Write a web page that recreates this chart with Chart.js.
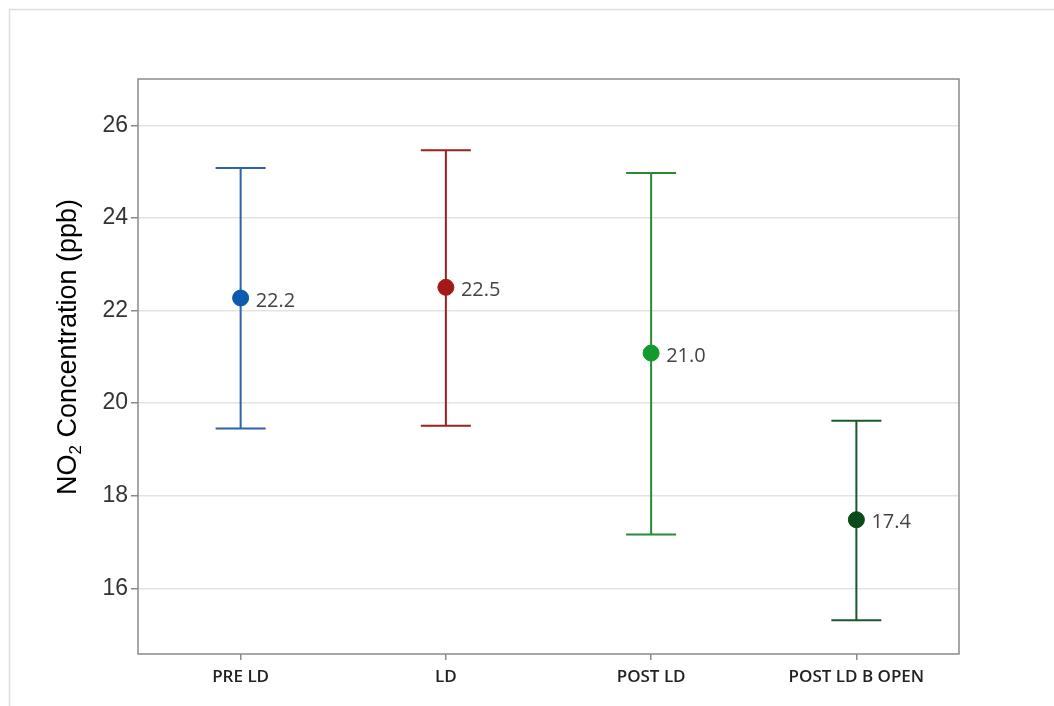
<!DOCTYPE html>
<html><head><meta charset="utf-8">
<script src="https://cdn.jsdelivr.net/npm/chart.js@4/dist/chart.umd.min.js"></script>
<style>html,body{margin:0;padding:0;background:#fff;} #wrap{width:1054px;height:706px;position:relative;}</style>
</head><body><div id="wrap"><canvas id="c" width="1054" height="706"></canvas></div>
<script>
const categories = ["PRE LD", "LD", "POST LD", "POST LD B OPEN"];
const means = [22.27, 22.5, 21.08, 17.48];
const upper = [25.08, 25.46, 24.97, 19.62];
const lower = [19.45, 19.51, 17.16, 15.31];
const meanLabels = ["22.2", "22.5", "21.0", "17.4"];
const yTicks = [16, 18, 20, 22, 24, 26];
const lineColors = ["#2b65a9", "#9e1f1f", "#2a8a38", "#1a5a2a"];
const pointColors = ["#0d5bad", "#a51818", "#139a2c", "#0b4a1a"];
const yTitle = ["NO", "2", " Concentration (ppb)"];

const framePlugin = {
  id: 'frame',
  beforeDraw(chart) {
    const ctx = chart.ctx;
    ctx.save();
    ctx.fillStyle = '#fff';
    ctx.fillRect(0, 0, chart.width, chart.height);
    ctx.strokeStyle = '#dedede';
    ctx.lineWidth = 1.5;
    ctx.beginPath();
    ctx.moveTo(9.5, chart.height); ctx.lineTo(9.5, 9.5); ctx.lineTo(chart.width, 9.5);
    ctx.stroke();
    ctx.restore();
  }
};

const errPlugin = {
  id: 'errbars',
  beforeDatasetsDraw(chart) {
    const ctx = chart.ctx, ca = chart.chartArea;
    const xs = chart.scales.x, ys = chart.scales.y;
    ctx.save();
    ctx.strokeStyle = '#8a8a8a';
    ctx.lineWidth = 1.5;
    ctx.strokeRect(ca.left, ca.top, ca.right - ca.left, ca.bottom - ca.top);
    for (let i = 0; i < categories.length; i++) {
      const x = xs.getPixelForValue(i);
      const yu = ys.getPixelForValue(upper[i]);
      const yl = ys.getPixelForValue(lower[i]);
      ctx.strokeStyle = lineColors[i];
      ctx.lineWidth = 2;
      ctx.beginPath();
      ctx.moveTo(x, yu); ctx.lineTo(x, yl);
      ctx.moveTo(x - 25, yu); ctx.lineTo(x + 25, yu);
      ctx.moveTo(x - 25, yl); ctx.lineTo(x + 25, yl);
      ctx.stroke();
    }
    ctx.restore();
  },
  afterDatasetsDraw(chart) {
    const ctx = chart.ctx;
    const meta = chart.getDatasetMeta(0);
    ctx.save();
    ctx.fillStyle = '#444';
    ctx.font = '20px "Open Sans"';
    ctx.textBaseline = 'middle';
    ctx.textAlign = 'left';
    meta.data.forEach((p, i) => {
      ctx.fillText(meanLabels[i], p.x + 15, p.y + 3);
    });
    ctx.restore();
    // y-axis title
    ctx.save();
    ctx.translate(76, 347);
    ctx.rotate(-Math.PI / 2);
    ctx.fillStyle = '#000';
    ctx.textBaseline = 'alphabetic';
    const big = '27px "Liberation Sans", Arial, sans-serif';
    const small = '17px "Liberation Sans", Arial, sans-serif';
    ctx.font = big; const w0 = ctx.measureText(yTitle[0]).width; const w2 = ctx.measureText(yTitle[2]).width;
    ctx.font = small; const w1 = ctx.measureText(yTitle[1]).width;
    let x = -(w0 + w1 + w2) / 2;
    ctx.font = big; ctx.fillText(yTitle[0], x, 0); x += w0;
    ctx.font = small; ctx.fillText(yTitle[1], x, 5); x += w1;
    ctx.font = big; ctx.fillText(yTitle[2], x, 0);
    ctx.restore();
  }
};

new Chart(document.getElementById('c'), {
  type: 'line',
  data: {
    labels: categories,
    datasets: [{
      data: means,
      showLine: false,
      pointRadius: 8,
      pointHoverRadius: 8,
      pointBackgroundColor: pointColors,
      pointBorderColor: pointColors,
      pointBorderWidth: 1
    }]
  },
  options: {
    responsive: false,
    devicePixelRatio: 1,
    animation: false,
    events: [],
    layout: { padding: { top: 79, right: 95, left: 0, bottom: 0 } },
    plugins: { legend: { display: false }, tooltip: { enabled: false } },
    scales: {
      x: {
        type: 'category',
        offset: true,
        border: { display: false },
        grid: { offset: false, drawOnChartArea: false, drawTicks: true, tickLength: 6, tickColor: '#8a8a8a', lineWidth: 1.5 },
        ticks: { color: '#222', font: { family: '"Open Sans"', size: 17, weight: '600' }, padding: 7, maxRotation: 0 },
        afterFit(s) { s.height = 52; }
      },
      y: {
        min: 14.58,
        max: 27,
        border: { display: false },
        afterBuildTicks(s) { s.ticks = yTicks.map(v => ({ value: v })); },
        grid: { color: '#e3e3e3', lineWidth: 1.5, tickLength: 7, tickColor: '#8a8a8a' },
        ticks: { color: '#333', font: { family: '"Liberation Sans", Arial', size: 23 }, padding: 3 },
        afterFit(s) { s.width = 138; }
      }
    }
  },
  plugins: [framePlugin, errPlugin]
});
</script></body></html>
